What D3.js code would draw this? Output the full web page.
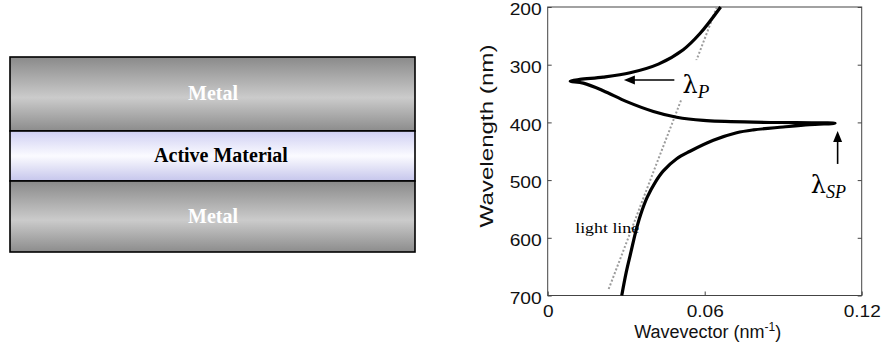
<!DOCTYPE html>
<html>
<head>
<meta charset="utf-8">
<script src="https://cdn.jsdelivr.net/npm/d3@7"></script>
<style>
  body { margin: 0; background: #fff; }
  svg { display: block; }
</style>
</head>
<body>
<svg width="881" height="349"></svg>
<script>
// layers of the structure (top to bottom)
var layerNames = ["Metal", "Active Material", "Metal"];
var layerKinds = ["metal", "active", "metal"];
var layerHeights = [74, 50, 71];

// dispersion curve, upper branch (from 200 nm down to the SP tip)
var kUpper = [0.0661, 0.0582, 0.0518, 0.0423, 0.0315, 0.0212, 0.0123, 0.0086, 0.0136, 0.0212, 0.0302, 0.0404, 0.0493, 0.0595, 0.0786, 0.0950, 0.1098];
var lambdaUpper = [200, 246, 274, 299, 314, 321.5, 325.5, 328.5, 332, 345, 364, 381, 391, 396.5, 399.5, 400.5, 401.5];
// lower branch (from the SP tip down to 700 nm)
var kLower = [0.1000, 0.0900, 0.0786, 0.0722, 0.0633, 0.0544, 0.0493, 0.0442, 0.0412, 0.0380, 0.0355, 0.0336, 0.0318, 0.0300, 0.0283];
var lambdaLower = [404, 408, 413, 418, 431, 450, 463, 484, 503, 530, 560, 590, 625, 660, 700];
// light line
var kLight = [0.0646, 0.0562, 0.0477, 0.0392, 0.0308, 0.0232];
var lambdaLight = [200, 300, 400, 500, 600, 690];

var yTicks = [200, 300, 400, 500, 600, 700];
var xTicks = [0, 0.06, 0.12];

(function () {
var svg = d3.select("svg");
var defs = svg.append("defs");

var metalGrad = defs.append("linearGradient").attr("id", "metal")
    .attr("x1", 0).attr("y1", 0).attr("x2", 0).attr("y2", 1);
metalGrad.append("stop").attr("offset", "0%").attr("stop-color", "#8a8a8a");
metalGrad.append("stop").attr("offset", "55%").attr("stop-color", "#cbcbcb");
metalGrad.append("stop").attr("offset", "100%").attr("stop-color", "#8c8c8c");

var activeGrad = defs.append("linearGradient").attr("id", "active")
    .attr("x1", 0).attr("y1", 0).attr("x2", 0).attr("y2", 1);
activeGrad.append("stop").attr("offset", "0%").attr("stop-color", "#cfcff3");
activeGrad.append("stop").attr("offset", "50%").attr("stop-color", "#fbfbff");
activeGrad.append("stop").attr("offset", "100%").attr("stop-color", "#c6c6ec");

// ---- left: layer stack ----
var stackX = 10, stackW = 405, stackTop = 57;
var offsets = [];
layerHeights.reduce(function (acc, h) { offsets.push(acc); return acc + h; }, stackTop);

var layers = svg.append("g").selectAll("g").data(layerNames).enter().append("g");
layers.append("rect")
    .attr("x", stackX)
    .attr("y", (d, i) => offsets[i])
    .attr("width", stackW)
    .attr("height", (d, i) => layerHeights[i])
    .attr("fill", (d, i) => "url(#" + layerKinds[i] + ")")
    .attr("stroke", "#000")
    .attr("stroke-width", 1.6);
layers.append("text")
    .attr("x", (d, i) => layerKinds[i] === "metal" ? 213 : 221)
    .attr("y", (d, i) => offsets[i] + layerHeights[i] / 2 + 6)
    .attr("text-anchor", "middle")
    .attr("font-family", "Liberation Serif, Times New Roman, serif")
    .attr("font-weight", "bold")
    .attr("font-size", 20)
    .attr("fill", (d, i) => layerKinds[i] === "metal" ? "#fff" : "#000")
    .text(d => d);

// ---- right: dispersion plot ----
var pLeft = 547.7, pRight = 861.7, pTop = 7, pBottom = 295.5;
var x = d3.scaleLinear().domain([0, 0.12]).range([pLeft, pRight]);
var y = d3.scaleLinear().domain([200, 700]).range([pTop, pBottom]);

var plot = svg.append("g");

function stretch(sel, f) {
    sel.each(function () {
        var w = this.getComputedTextLength();
        d3.select(this).attr("textLength", w * f).attr("lengthAdjust", "spacingAndGlyphs");
    });
}

var yAxis = plot.append("g").attr("transform", "translate(" + pLeft + ",0)")
    .call(d3.axisLeft(y).tickValues(yTicks).tickSizeInner(-4).tickSizeOuter(0).tickPadding(6));
var yAxisR = plot.append("g").attr("transform", "translate(" + pRight + ",0)")
    .call(d3.axisRight(y).tickValues(yTicks).tickSizeInner(-4).tickSizeOuter(0).tickFormat(""));
var xAxis = plot.append("g").attr("transform", "translate(0," + pBottom + ")")
    .call(d3.axisBottom(x).tickValues(xTicks).tickSizeInner(-4).tickSizeOuter(0).tickPadding(9)
        .tickFormat(d => d === 0 ? "0" : d3.format(".2f")(d)));

[yAxis, yAxisR, xAxis].forEach(function (a) {
    a.select(".domain").remove();
    a.selectAll("line").attr("stroke", "#444");
    a.selectAll("text")
        .attr("font-family", "Liberation Sans, Arial, sans-serif")
        .attr("font-size", 17)
        .attr("fill", "#111");
});
yAxis.selectAll("text").attr("dy", "0.45em");
stretch(yAxis.selectAll("text"), 1.13);
stretch(xAxis.selectAll("text"), 1.12);

plot.append("rect")
    .attr("x", pLeft).attr("y", pTop)
    .attr("width", pRight - pLeft).attr("height", pBottom - pTop)
    .attr("fill", "none").attr("stroke", "#444").attr("stroke-width", 1);

// light line
var lightPts = kLight.map((k, i) => [k, lambdaLight[i]]);
plot.append("path")
    .attr("d", d3.line().x(d => x(d[0])).y(d => y(d[1])).curve(d3.curveMonotoneY)(lightPts))
    .attr("fill", "none")
    .attr("stroke", "#9c9c9c")
    .attr("stroke-width", 2)
    .attr("stroke-dasharray", "2,2");

// dispersion curve
var curvePts = kUpper.map((k, i) => [k, lambdaUpper[i]])
    .concat(kLower.map((k, i) => [k, lambdaLower[i]]));
plot.append("path")
    .attr("d", d3.line().x(d => x(d[0])).y(d => y(d[1])).curve(d3.curveCatmullRom.alpha(0.5))(curvePts))
    .attr("fill", "none")
    .attr("stroke", "#000")
    .attr("stroke-width", 3.2)
    .attr("stroke-linejoin", "round");

// annotations
function arrow(k1, l1, k2, l2) {
    var x1 = x(k1), y1 = y(l1), x2 = x(k2), y2 = y(l2);
    var a = Math.atan2(y2 - y1, x2 - x1), len = 11, w = 4.5;
    plot.append("line")
        .attr("x1", x1).attr("y1", y1)
        .attr("x2", x2 - Math.cos(a) * len * 0.8).attr("y2", y2 - Math.sin(a) * len * 0.8)
        .attr("stroke", "#000").attr("stroke-width", 1.6);
    var bx = x2 - Math.cos(a) * len, by = y2 - Math.sin(a) * len;
    plot.append("polygon")
        .attr("points", [[x2, y2],
            [bx - Math.sin(a) * w, by + Math.cos(a) * w],
            [bx + Math.sin(a) * w, by - Math.cos(a) * w]].join(" "))
        .attr("fill", "#000");
}

// white patch behind the lambda_P label
plot.append("rect")
    .attr("x", x(0.0505)).attr("y", y(292))
    .attr("width", 36).attr("height", 40)
    .attr("fill", "#fff");

arrow(0.0484, 326.5, 0.0291, 326.5);
arrow(0.1108, 472, 0.1108, 415);

function lambdaLabel(k, l, sub, subSize) {
    var t = plot.append("text")
        .attr("x", x(k)).attr("y", y(l))
        .attr("font-family", "DejaVu Serif, Liberation Serif, serif")
        .attr("font-size", 24)
        .attr("fill", "#000");
    t.append("tspan").text("λ");
    t.append("tspan").attr("dy", 5)
        .attr("font-family", "Liberation Serif, Times New Roman, serif")
        .attr("font-size", subSize)
        .attr("font-style", "italic").text(sub);
}
lambdaLabel(0.0515, 349, "P", 19);
lambdaLabel(0.1005, 523, "SP", 18);

plot.append("text")
    .attr("x", x(0.0105)).attr("y", y(591))
    .attr("font-family", "Liberation Serif, Times New Roman, serif")
    .attr("font-size", 14)
    .attr("textLength", 64)
    .attr("lengthAdjust", "spacingAndGlyphs")
    .attr("fill", "#000")
    .text("light line");

// axis titles
var xt = plot.append("text")
    .attr("x", (pLeft + pRight) / 2 + 3).attr("y", 338)
    .attr("text-anchor", "middle")
    .attr("font-family", "Liberation Sans, Arial, sans-serif")
    .attr("font-size", 18)
    .attr("fill", "#111");
xt.append("tspan").text("Wavevector (nm");
xt.append("tspan").attr("dy", -7).attr("font-size", 12).text("-1");
xt.append("tspan").attr("dy", 7).text(")");

plot.append("text")
    .attr("transform", "translate(493,136) rotate(-90)")
    .attr("text-anchor", "middle")
    .attr("font-family", "Liberation Sans, Arial, sans-serif")
    .attr("font-size", 19)
    .attr("textLength", 183)
    .attr("lengthAdjust", "spacingAndGlyphs")
    .attr("fill", "#111")
    .text("Wavelength (nm)");
})();
</script>
</body>
</html>
